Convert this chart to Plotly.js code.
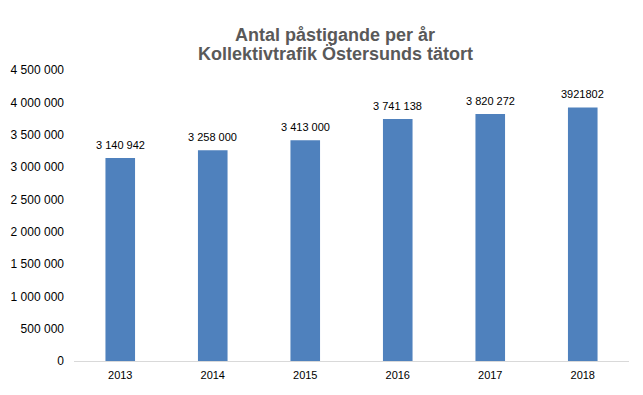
<!DOCTYPE html>
<html><head><meta charset="utf-8">
<script src="https://cdn.plot.ly/plotly-3.0.1.min.js"></script>
<style>html,body{margin:0;padding:0;background:#fff}#c{width:643px;height:395px}</style>
</head><body><div id="c"></div>
<script>
const titleLines = ["Antal påstigande per år", "Kollektivtrafik Östersunds tätort"];
const years = ["2013","2014","2015","2016","2017","2018"];
const passengers = [3140942, 3258000, 3413000, 3741138, 3820272, 3921802];
const barLabels = ["3 140 942","3 258 000","3 413 000","3 741 138","3 820 272","3921802"];
const yTickVals = [0,500000,1000000,1500000,2000000,2500000,3000000,3500000,4000000,4500000];
const yTickText = ["0","500 000","1 000 000","1 500 000","2 000 000","2 500 000","3 000 000","3 500 000","4 000 000","4 500 000"];

const F = 'Liberation Sans, Arial, sans-serif';
const ML = 74, MR = 14, MT = 70, MB = 34, W = 643, H = 395;
const plotH = H - MT - MB, plotW = W - ML - MR;
const py = px => (H - MB - px) / plotH;   // pixel row -> paper y
const titleX = (335 - ML) / plotW;

const annotations = barLabels.map((t, i) => ({
  x: i, y: passengers[i], xref:'x', yref:'y', text:t, showarrow:false,
  yanchor:'bottom', yshift:5, font:{family:F, size:11, color:'#000'}
})).concat(titleLines.map((t, i) => ({
  x: titleX, y: py(i === 0 ? 35 : 54), xref:'paper', yref:'paper', text:'<b>'+t+'</b>',
  showarrow:false, xanchor:'center', yanchor:'middle',
  font:{family:F, size:18, color:'#595959'}
})));

Plotly.newPlot('c', [{
  type:'bar', x:years, y:passengers,
  marker:{color:'#4F81BD'}, hoverinfo:'none'
}], {
  width:W, height:H,
  margin:{l:ML, r:MR, t:MT, b:MB},
  paper_bgcolor:'#fff', plot_bgcolor:'#fff',
  bargap:0.68,
  annotations: annotations,
  xaxis:{type:'category', range:[-0.5, years.length - 0.5], showgrid:false, showline:true,
    linecolor:'#d9d9d9', linewidth:1,
    ticks:'', ticklabelstandoff:4, tickfont:{family:F, size:11, color:'#000'}},
  yaxis:{range:[0,4500000], tickvals:yTickVals, ticktext:yTickText, showgrid:false,
    zeroline:false, showline:false, ticks:'', ticklabelstandoff:9,
    tickfont:{family:F, size:12, color:'#000'}},
  showlegend:false
}, {displayModeBar:false, staticPlot:true});
</script></body></html>
